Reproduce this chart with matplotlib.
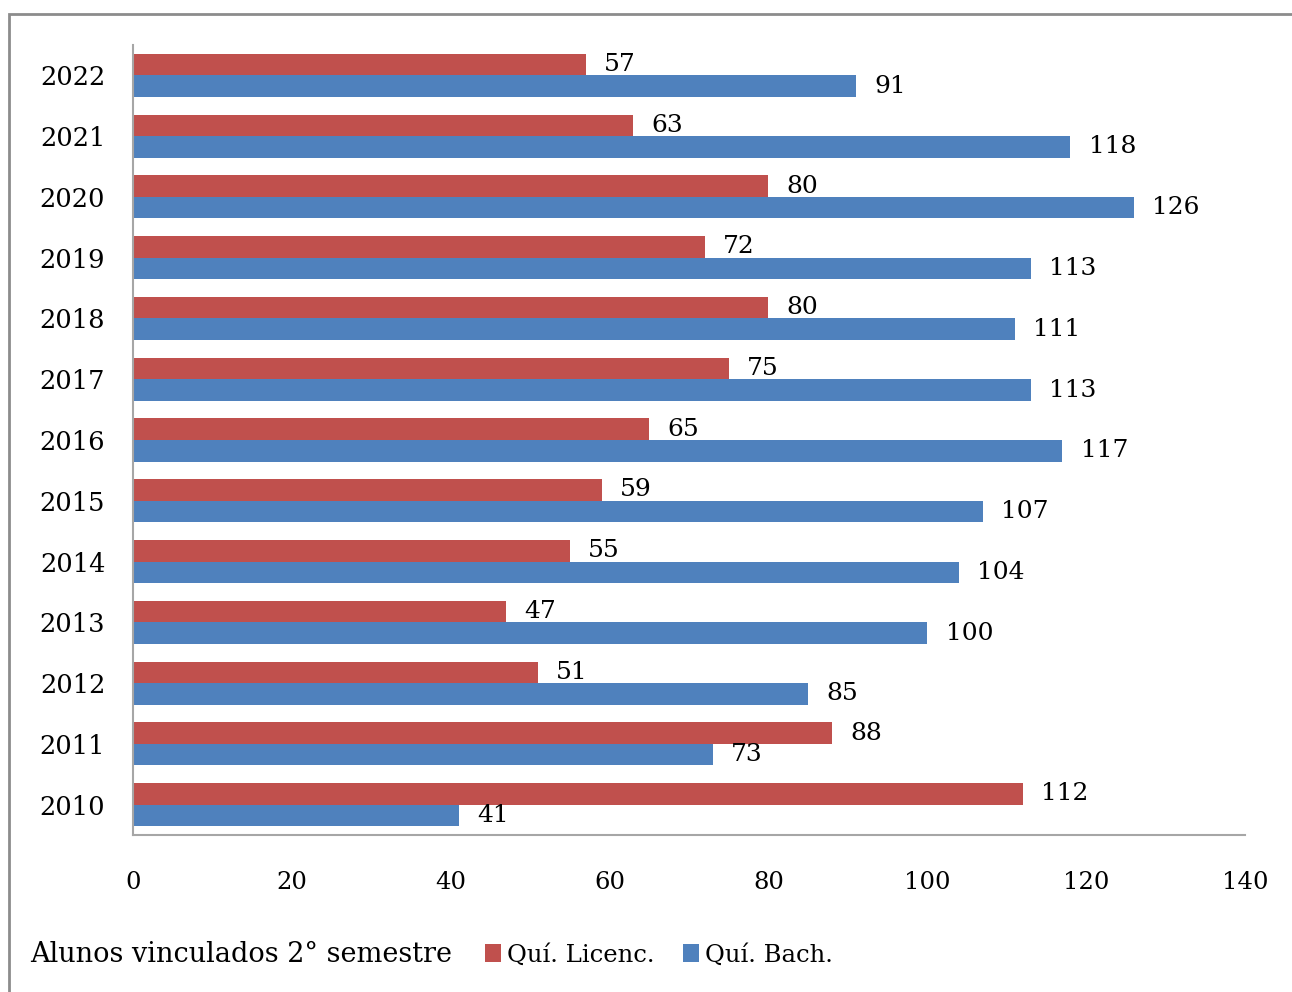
import matplotlib.pyplot as plt
from matplotlib.patches import Rectangle

# data, bottom to top
years = ['2010', '2011', '2012', '2013', '2014', '2015', '2016',
         '2017', '2018', '2019', '2020', '2021', '2022']
licenc = [112, 88, 51, 47, 55, 59, 65, 75, 80, 72, 80, 63, 57]
bach = [41, 73, 85, 100, 104, 107, 117, 113, 111, 113, 126, 118, 91]
x_ticks = [0, 20, 40, 60, 80, 100, 120, 140]

red = '#C0504D'
blue = '#4F81BD'
plt.rcParams['font.family'] = ['DejaVu Serif']

fig = plt.figure(figsize=(12.92, 9.92), dpi=100)
ax = fig.add_axes([133 / 1292, 1 - 835 / 992, 1112 / 1292, 790 / 992])

h = 0.355
pos = list(range(len(years)))
bars_l = ax.barh([p + h / 2 for p in pos], licenc, height=h, color=red,
                 label='Quí. Licenc.')
bars_b = ax.barh([p - h / 2 for p in pos], bach, height=h, color=blue,
                 label='Quí. Bach.')

for bars, vals in ((bars_l, licenc), (bars_b, bach)):
    for b, v in zip(bars, vals):
        ax.text(b.get_width() + 2.3, b.get_y() + b.get_height() / 2, str(v),
                va='center', ha='left', fontsize=18)

ax.set_xlim(0, 140)
ax.set_ylim(-0.5, len(years) - 0.5)
ax.set_yticks(pos)
ax.set_yticklabels(years, fontsize=18.5)
ax.set_xticks(x_ticks)
ax.set_xticklabels([str(t) for t in x_ticks], fontsize=17.5)
ax.tick_params(length=0)
ax.tick_params(axis='y', pad=20)
ax.tick_params(axis='x', pad=26)
for s in ('top', 'right'):
    ax.spines[s].set_visible(False)
for s in ('left', 'bottom'):
    ax.spines[s].set_color('#a6a6a6')
    ax.spines[s].set_linewidth(1.5)

# outer chart border
fig.patches.append(Rectangle((9 / 1292, -0.1), 1.2, 1.1 - 14 / 992,
                             transform=fig.transFigure, fill=False,
                             edgecolor='#8c8c8c', linewidth=2))

fig.text(30 / 1292, 1 - 955 / 992, 'Alunos vinculados 2° semestre',
         fontsize=19.5, va='center', ha='left')
handles = [bars_l, bars_b]
fig.legend(handles, ['Quí. Licenc.', 'Quí. Bach.'], loc='center left',
           bbox_to_anchor=(463 / 1292, 1 - 955 / 992), ncol=2, frameon=False,
           fontsize=17.5, handlelength=0.65, handleheight=0.7,
           handletextpad=0.25, columnspacing=1.2)

fig.savefig('out.png', dpi=100)
